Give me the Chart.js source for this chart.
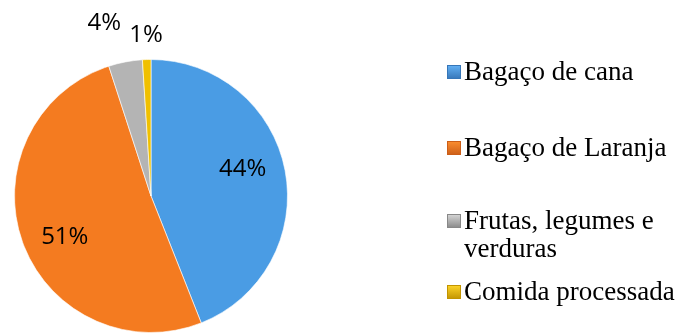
<!DOCTYPE html>
<html>
<head>
<meta charset="utf-8">
<script src="https://cdn.jsdelivr.net/npm/chart.js@4/dist/chart.umd.min.js"></script>
<style>
  html, body { margin: 0; padding: 0; background: #fff; }
  #wrap { position: relative; width: 678px; height: 333px; overflow: hidden; }
  #c { position: absolute; left: 0; top: 0; }
  #legend { position: absolute; left: 0; top: 0; width: 678px; height: 333px; pointer-events: none;
    font-family: "Liberation Serif", "Times New Roman", serif; font-size: 27px; line-height: 28px; color: #000; }
  .item { position: absolute; left: 447px; white-space: nowrap; }
  .sw { position: absolute; left: 0; top: 8px; width: 14px; height: 14px; }
  .tx { position: absolute; left: 17px; top: 0; }
</style>
</head>
<body>
<div id="wrap">
  <canvas id="c" width="678" height="333"></canvas>
  <div id="legend"></div>
</div>
<script>
// ---- data ----
const categories = ["Bagaço de cana", "Bagaço de Laranja", "Frutas, legumes e verduras", "Comida processada"];
const legendLines = [["Bagaço de cana"], ["Bagaço de Laranja"], ["Frutas, legumes e", "verduras"], ["Comida processada"]];
const values = [44, 51, 4, 1];
const percentLabels = ["44%", "51%", "4%", "1%"];

// ---- styles ----
const baseColors = ["#4a9ce4", "#f47b20", "#b4b4b4", "#f0c000"];
const lightColors = ["#64b2f6", "#fc8f30", "#d8d8d8", "#ffd62a"];
const darkColors = ["#3676b8", "#cc5e18", "#888888", "#c29400"];
const legendTops = [57, 133, 206, 277];

function sliceFill(ctx) {
  const chart = ctx.chart;
  const el = chart.getDatasetMeta(0).data[ctx.dataIndex];
  if (!el || !chart.chartArea) return baseColors[ctx.dataIndex];
  const { x, y, outerRadius } = el.getProps(['x', 'y', 'outerRadius'], true);
  if (!outerRadius) return baseColors[ctx.dataIndex];
  const g = chart.ctx.createRadialGradient(x - outerRadius * 0.2, y - outerRadius * 0.25, 0, x, y, outerRadius);
  const i = ctx.dataIndex;
  g.addColorStop(0, lightColors[i]);
  g.addColorStop(0.55, baseColors[i]);
  g.addColorStop(0.9, baseColors[i]);
  g.addColorStop(1, darkColors[i]);
  return g;
}

const labelPlugin = {
  id: 'pctLabels',
  afterDatasetsDraw(chart) {
    const c = chart.ctx;
    const meta = chart.getDatasetMeta(0);
    c.save();
    c.font = '24px "Open Sans", sans-serif';
    c.fillStyle = '#000';
    c.textAlign = 'center';
    c.textBaseline = 'middle';
    let lastOutside = null;
    const total = values.reduce((a, b) => a + b, 0);
    for (let i = meta.data.length - 1; i >= 0; i--) {
      const arc = meta.data[i];
      const { x, y, startAngle, endAngle, outerRadius } = arc.getProps(['x','y','startAngle','endAngle','outerRadius'], true);
      const frac = values[i] / total;
      let px, py;
      if (frac > 0.1) {
        const mid = (startAngle + endAngle) / 2 - 0.1;
        const r = outerRadius * 0.7;
        px = x + Math.cos(mid) * r;
        py = y + Math.sin(mid) * r;
      } else {
        const r = outerRadius + 24;
        const m = (startAngle + endAngle) / 2;
        px = x + Math.cos(m) * r;
        py = y + Math.sin(m) * r;
        const w = c.measureText(percentLabels[i]).width;
        if (lastOutside && Math.abs(px - lastOutside.x) < (w + lastOutside.w) / 2 + 6) {
          px = lastOutside.x - (w + lastOutside.w) / 2 - 8;
          py = lastOutside.y - 12;
        }
        lastOutside = { x: px, y: py, w };
      }
      c.fillText(percentLabels[i], px, py);
    }
    c.restore();
  }
};

new Chart(document.getElementById('c'), {
  type: 'pie',
  data: {
    labels: categories,
    datasets: [{
      data: values,
      backgroundColor: sliceFill,
      borderColor: 'rgba(255,255,255,0.6)',
      borderWidth: 1
    }]
  },
  options: {
    responsive: false,
    animation: false,
    layout: { padding: { left: 14, right: 390, top: 59, bottom: 0 } },
    plugins: { legend: { display: false }, tooltip: { enabled: false } }
  },
  plugins: [labelPlugin]
});

// HTML legend built from the data arrays
const legend = document.getElementById('legend');
legendLines.forEach((lines, i) => {
  const item = document.createElement('div');
  item.className = 'item';
  item.style.top = legendTops[i] + 'px';
  const sw = document.createElement('div');
  sw.className = 'sw';
  sw.style.background = 'linear-gradient(180deg,' + lightColors[i] + ',' + darkColors[i] + ')';
  sw.style.boxShadow = 'inset 0 0 0 1px ' + darkColors[i];
  item.appendChild(sw);
  const tx = document.createElement('div');
  tx.className = 'tx';
  tx.innerHTML = lines.join('<br>');
  item.appendChild(tx);
  legend.appendChild(item);
});
</script>
</body>
</html>
